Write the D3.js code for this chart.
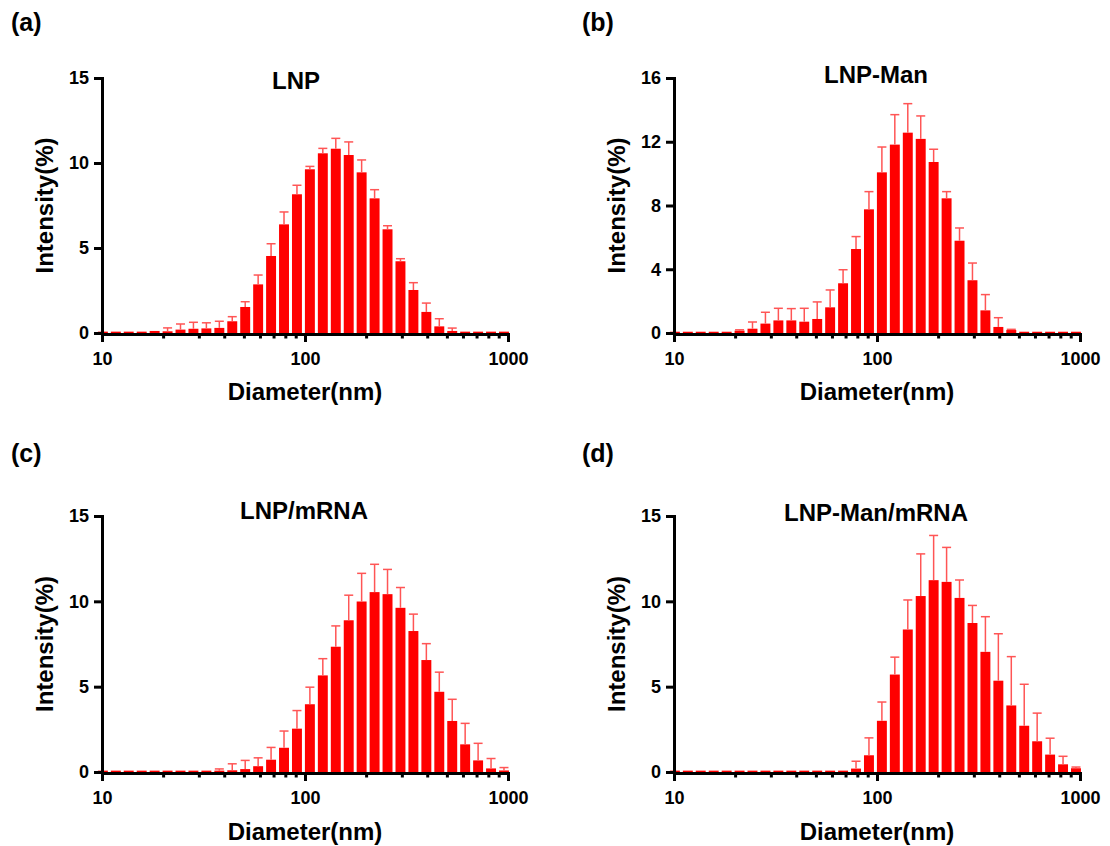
<!DOCTYPE html>
<html><head><meta charset="utf-8">
<script src="https://cdn.jsdelivr.net/npm/d3@7"></script>
<style>
body{margin:0;background:#fff}
svg text{font-family:"Liberation Sans",Arial,sans-serif;font-weight:bold;fill:#000}
</style>
</head><body>
<svg id="chart" width="1110" height="846"></svg>
<script>
// Bin centres (nm) of the size distribution between 10 and 1000 nm
const sizes = [10.1, 11.7, 13.54, 15.69, 18.17, 21.04, 24.36, 28.21, 32.67, 37.84, 43.82, 50.75, 58.77, 68.06, 78.82, 91.28,
  105.7, 122.4, 141.8, 164.2, 190.1, 220.2, 255.0, 295.3, 342.0, 396.1, 458.7, 531.2, 615.1, 712.4, 825.0, 955.4];

// (a) LNP
const lnpMean = [0.08, 0.08, 0.08, 0.08, 0.12, 0.1, 0.2, 0.25, 0.27, 0.3, 0.69, 1.53, 2.86, 4.53, 6.39, 8.16,
  9.63, 10.57, 10.84, 10.47, 9.45, 7.92, 6.1, 4.22, 2.53, 1.24, 0.39, 0.12, 0.08, 0.08, 0.08, 0.08];
const lnpSD = [0, 0, 0, 0, 0, 0.2, 0.33, 0.38, 0.33, 0.39, 0.27, 0.31, 0.55, 0.72, 0.73, 0.53,
  0.17, 0.29, 0.61, 0.77, 0.73, 0.51, 0.21, 0.15, 0.43, 0.52, 0.45, 0.17, 0, 0, 0, 0];

// (b) LNP-Man
const lnpManMean = [0.08, 0.08, 0.08, 0.08, 0.08, 0.15, 0.27, 0.59, 0.79, 0.79, 0.71, 0.88, 1.61, 3.12, 5.27, 7.76,
  10.08, 11.82, 12.57, 12.18, 10.73, 8.45, 5.79, 3.31, 1.42, 0.38, 0.19, 0.08, 0.08, 0.08, 0.08, 0.08];
const lnpManSD = [0, 0, 0, 0, 0, 0.05, 0.42, 0.71, 0.76, 0.74, 0.84, 1.07, 1.09, 0.85, 0.78, 1.11,
  1.59, 1.88, 1.82, 1.44, 0.8, 0.42, 0.8, 1.08, 0.99, 0.58, 0.04, 0, 0, 0, 0, 0];

// (c) LNP/mRNA
const lnpMrnaMean = [0.08, 0.08, 0.08, 0.08, 0.08, 0.08, 0.08, 0.08, 0.08, 0.08, 0.1, 0.17, 0.34, 0.72, 1.42, 2.54,
  3.97, 5.66, 7.34, 8.89, 9.99, 10.54, 10.42, 9.62, 8.26, 6.56, 4.7, 2.99, 1.62, 0.68, 0.21, 0.09];
const lnpMrnaSD = [0, 0, 0, 0, 0, 0, 0, 0, 0, 0.1, 0.38, 0.51, 0.49, 0.72, 0.98, 1.06,
  1.0, 0.98, 1.22, 1.47, 1.65, 1.63, 1.45, 1.19, 0.99, 0.96, 1.15, 1.27, 1.23, 1.0, 0.58, 0.17];

// (d) LNP-Man/mRNA
const lnpManMrnaMean = [0.08, 0.08, 0.08, 0.08, 0.08, 0.08, 0.08, 0.08, 0.08, 0.08, 0.08, 0.08, 0.08, 0.08, 0.2, 0.98,
  3.0, 5.71, 8.35, 10.31, 11.24, 11.14, 10.2, 8.73, 7.04, 5.35, 3.9, 2.71, 1.8, 1.02, 0.45, 0.22];
const lnpManMrnaSD = [0, 0, 0, 0, 0, 0, 0, 0, 0, 0, 0, 0, 0, 0, 0.43, 1.02,
  1.1, 1.02, 1.73, 2.47, 2.62, 2.02, 1.05, 1.03, 2.06, 2.75, 2.86, 2.43, 1.65, 0.96, 0.47, 0.07];

// Tick values / labels
const xMajorTicks = [10, 100, 1000];
const xMinorTicks = [20, 30, 40, 50, 60, 70, 80, 90, 200, 300, 400, 500, 600, 700, 800, 900];
const yTicks15 = [0, 5, 10, 15];
const yTicks16 = [0, 4, 8, 12, 16];
const panelLetters = ["(a)", "(b)", "(c)", "(d)"];
const titles = ["LNP", "LNP-Man", "LNP/mRNA", "LNP-Man/mRNA"];
const xLabel = "Diameter(nm)";
const yLabel = "Intensity(%)";

const panels = [
  {letter: panelLetters[0], title: titles[0], mean: lnpMean, sd: lnpSD, yMax: 15, yTicks: yTicks15,
   x0: 102, x1: 508, yb: 333, yt: 78, lx: 11, ly: 31, tx: 296, ty: 89, xly: 400, ylx: 53},
  {letter: panelLetters[1], title: titles[1], mean: lnpManMean, sd: lnpManSD, yMax: 16, yTicks: yTicks16,
   x0: 674, x1: 1080, yb: 333, yt: 78, lx: 582, ly: 31, tx: 876, ty: 83, xly: 400, ylx: 625},
  {letter: panelLetters[2], title: titles[2], mean: lnpMrnaMean, sd: lnpMrnaSD, yMax: 15, yTicks: yTicks15,
   x0: 102, x1: 508, yb: 772, yt: 516, lx: 11, ly: 462, tx: 304, ty: 519, xly: 840, ylx: 53},
  {letter: panelLetters[3], title: titles[3], mean: lnpManMrnaMean, sd: lnpManMrnaSD, yMax: 15, yTicks: yTicks15,
   x0: 674, x1: 1080, yb: 772, yt: 516, lx: 582, ly: 462, tx: 876, ty: 521, xly: 840, ylx: 625}
];

const svg = d3.select("#chart");
const halfStep = Math.pow(10, 0.0628 / 2);

panels.forEach(p => {
  const g = svg.append("g");
  const x = d3.scaleLog().domain([10, 1000]).range([p.x0, p.x1]);
  const y = d3.scaleLinear().domain([0, p.yMax]).range([p.yb, p.yt]);
  const data = sizes.map((s, i) => ({s, m: p.mean[i], e: p.sd[i]}));

  // bars
  g.append("g").selectAll("rect").data(data).join("rect")
    .attr("x", d => { const l = x(d.s / halfStep), r = x(d.s * halfStep); const w = (r - l) * 0.78; return (l + r) / 2 - w / 2; })
    .attr("width", d => (x(d.s * halfStep) - x(d.s / halfStep)) * 0.78)
    .attr("y", d => y(d.m))
    .attr("height", d => y(0) - y(d.m))
    .attr("fill", "#ff0000");

  // error bars (upper only)
  const eb = g.append("g").attr("stroke", "#ff5555").attr("stroke-width", 1.5).attr("fill", "none");
  const withErr = data.filter(d => d.e > 0);
  eb.selectAll("line.v").data(withErr).join("line").attr("class", "v")
    .attr("x1", d => x(d.s)).attr("x2", d => x(d.s))
    .attr("y1", d => y(d.m)).attr("y2", d => y(d.m + d.e));
  eb.selectAll("line.c").data(withErr).join("line").attr("class", "c")
    .attr("x1", d => x(d.s) - 4.5).attr("x2", d => x(d.s) + 4.5)
    .attr("y1", d => y(d.m + d.e)).attr("y2", d => y(d.m + d.e));

  // x axis
  const xa = g.append("g").attr("transform", `translate(0,${p.yb + 1})`)
    .call(d3.axisBottom(x).tickValues(xMajorTicks.concat(xMinorTicks)).tickSize(8).tickPadding(10).tickSizeOuter(0)
      .tickFormat(d => xMajorTicks.includes(d) ? String(d) : ""));
  xa.selectAll(".tick line").attr("stroke-width", 3).attr("y2", d => xMajorTicks.includes(d) ? 8 : 4.5);
  xa.select(".domain").attr("stroke-width", 3).attr("stroke-linecap", "square");
  xa.selectAll("text").style("font-size", "18px");

  // y axis
  const ya = g.append("g").attr("transform", `translate(${p.x0},0)`)
    .call(d3.axisLeft(y).tickValues(p.yTicks).tickSize(8).tickPadding(5).tickSizeOuter(0));
  ya.selectAll(".tick line").attr("stroke-width", 3);
  ya.select(".domain").attr("stroke-width", 3).attr("stroke-linecap", "square");
  ya.selectAll("text").style("font-size", "18px");

  // texts
  g.append("text").attr("x", p.lx).attr("y", p.ly).style("font-size", "25px").text(p.letter);
  g.append("text").attr("x", p.tx).attr("y", p.ty).attr("text-anchor", "middle").style("font-size", "24px").text(p.title);
  g.append("text").attr("x", (p.x0 + p.x1) / 2).attr("y", p.xly).attr("text-anchor", "middle").style("font-size", "24px").text(xLabel);
  g.append("text").attr("transform", `translate(${p.ylx},${(p.yb + p.yt) / 2}) rotate(-90)`)
    .attr("text-anchor", "middle").style("font-size", "24px").text(yLabel);
});
</script>
</body></html>
